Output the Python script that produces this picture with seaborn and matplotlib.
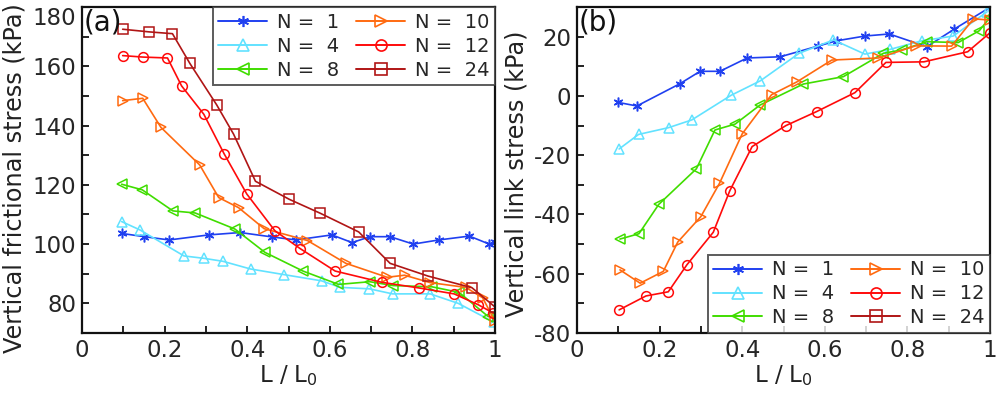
import matplotlib
matplotlib.use('Agg')
import matplotlib.pyplot as plt
from matplotlib.lines import Line2D
import seaborn as sns
import pandas as pd

# ---- panel (a): vertical frictional stress (kPa) ----
a_x_n1 = [0.096, 0.151, 0.211, 0.307, 0.383, 0.461, 0.518, 0.605, 0.654, 0.697, 0.746, 0.802, 0.864, 0.938, 0.986, 1.0]
a_y_n1 = [103.6, 102.5, 101.4, 103.1, 103.9, 102.4, 101.4, 103.1, 100.5, 102.5, 102.5, 100.0, 101.4, 102.7, 100.0, 100.6]
a_x_n4 = [0.096, 0.140, 0.247, 0.295, 0.341, 0.408, 0.489, 0.580, 0.625, 0.696, 0.752, 0.843, 0.911, 0.998]
a_y_n4 = [107.6, 104.8, 96.0, 95.2, 94.2, 91.6, 89.7, 87.6, 85.4, 84.9, 83.2, 83.2, 80.0, 73.6]
a_x_n8 = [0.096, 0.146, 0.220, 0.274, 0.370, 0.443, 0.535, 0.621, 0.697, 0.754, 0.847, 0.913, 0.984]
a_y_n8 = [120.2, 118.3, 111.2, 110.5, 105.1, 97.2, 90.9, 86.4, 87.3, 86.0, 85.6, 83.7, 75.5]
a_x_n10 = [0.0985, 0.147, 0.191, 0.285, 0.331, 0.379, 0.441, 0.546, 0.639, 0.739, 0.781, 0.843, 0.929, 0.970, 0.999]
a_y_n10 = [148.4, 149.2, 139.4, 126.7, 115.7, 112.3, 105.2, 101.2, 93.5, 88.8, 89.5, 87.0, 85.4, 81.9, 74.2]
a_x_n12 = [0.0985, 0.148, 0.207, 0.241, 0.295, 0.344, 0.399, 0.467, 0.528, 0.613, 0.726, 0.816, 0.901, 0.960, 0.996]
a_y_n12 = [163.6, 163.1, 162.8, 153.4, 143.8, 130.5, 116.9, 104.5, 98.5, 90.9, 87.1, 85.2, 83.2, 79.5, 76.7]
a_x_n24 = [0.0985, 0.163, 0.219, 0.261, 0.326, 0.367, 0.420, 0.502, 0.577, 0.670, 0.746, 0.838, 0.944, 0.999]
a_y_n24 = [172.5, 171.6, 171.0, 161.0, 147.0, 137.1, 121.2, 115.1, 110.4, 104.1, 93.5, 89.2, 85.3, 78.9]

# ---- panel (b): vertical link stress (kPa) ----
b_x_n1 = [0.100, 0.145, 0.249, 0.298, 0.346, 0.412, 0.492, 0.583, 0.629, 0.697, 0.756, 0.847, 0.913, 1.0]
b_y_n1 = [-2.2, -3.4, 4.1, 8.3, 8.3, 12.8, 13.2, 16.8, 18.6, 20.2, 20.9, 16.6, 22.5, 29.9]
b_x_n4 = [0.102, 0.149, 0.222, 0.278, 0.373, 0.444, 0.538, 0.621, 0.697, 0.758, 0.835, 0.911, 0.993]
b_y_n4 = [-17.9, -13.0, -10.7, -8.1, 0.2, 5.1, 14.4, 18.9, 14.1, 15.7, 18.6, 20.2, 28.4]
b_x_n8 = [0.104, 0.150, 0.198, 0.289, 0.334, 0.383, 0.443, 0.548, 0.645, 0.742, 0.786, 0.847, 0.923, 0.974, 1.0]
b_y_n8 = [-48.3, -46.5, -36.6, -24.6, -11.5, -9.5, -3.1, 4.0, 6.5, 14.4, 15.5, 18.3, 18.0, 22.0, 26.5]
b_x_n10 = [0.104, 0.153, 0.209, 0.244, 0.300, 0.345, 0.400, 0.471, 0.532, 0.617, 0.730, 0.820, 0.907, 0.960, 1.0]
b_y_n10 = [-58.7, -63.2, -59.2, -49.3, -40.7, -29.5, -12.8, 0.4, 4.7, 12.1, 12.8, 16.9, 16.8, 26.0, 25.6]
b_x_n12 = [0.102, 0.167, 0.221, 0.266, 0.330, 0.370, 0.424, 0.506, 0.580, 0.673, 0.748, 0.840, 0.946, 1.0]
b_y_n12 = [-72.2, -67.5, -66.1, -57.0, -46.0, -32.0, -17.1, -10.0, -5.3, 1.1, 11.3, 11.5, 14.9, 21.3]

labels = ['N =  1', 'N =  4', 'N =  8', 'N =  10', 'N =  12', 'N =  24']
colors = ['#2040f0', '#62e2ff', '#40dd00', '#ff6a10', '#ff0a0a', '#b01515']
markers = [(6, 2, 0), '^', '<', '>', 'o', 's']

series_a = [(a_x_n1, a_y_n1), (a_x_n4, a_y_n4), (a_x_n8, a_y_n8),
            (a_x_n10, a_y_n10), (a_x_n12, a_y_n12), (a_x_n24, a_y_n24)]
series_b = [(b_x_n1, b_y_n1), (b_x_n4, b_y_n4), (b_x_n8, b_y_n8),
            (b_x_n10, b_y_n10), (b_x_n12, b_y_n12)]

sns.set_theme(style='white')
plt.rcParams['font.family'] = ['DejaVu Sans']
plt.rcParams['axes.unicode_minus'] = False
plt.rcParams['mathtext.default'] = 'regular'

fig = plt.figure(figsize=(9.96, 3.99), dpi=100)
ax_a = fig.add_axes([82 / 996, 66 / 399, 413 / 996, 326 / 399])
ax_b = fig.add_axes([577 / 996, 66 / 399, 413 / 996, 326 / 399])


def draw(ax, series):
    for i, (xs, ys) in enumerate(series):
        df = pd.DataFrame({'x': xs, 'y': ys})
        sns.lineplot(data=df, x='x', y='y', ax=ax, sort=False, estimator=None,
                     color=colors[i], marker=markers[i], markersize=7,
                     markerfacecolor='none', markeredgecolor=colors[i],
                     markeredgewidth=1.1, linewidth=1.2)


def style(ax, ylim, yticks, ylabel, tag, label_pos):
    ax.set_xlim(0, 1)
    ax.set_ylim(*ylim)
    ax.set_xticks([0, 0.2, 0.4, 0.6, 0.8, 1])
    ax.set_xticklabels(['0', '0.2', '0.4', '0.6', '0.8', '1'])
    ax.set_xticks([0.1, 0.3, 0.5, 0.7, 0.9], minor=True)
    ax.set_yticks(yticks)
    ax.set_yticks([v + 10 for v in yticks[:-1]], minor=True)
    ax.tick_params(which='both', direction='in', bottom=True, left=True,
                   top=False, right=False, labelsize=16.5, pad=4, color='#222222')
    ax.tick_params(which='major', length=5, width=1.4)
    ax.tick_params(which='minor', length=5, width=1.4)
    for sp in ax.spines.values():
        sp.set_linewidth(1.6)
        sp.set_color('#111111')
    ax.set_xlabel('L / L$_0$', fontsize=16.5, labelpad=1, color='#222222')
    ax.set_ylabel(ylabel, fontsize=17.3, color='#222222')
    ax.yaxis.set_label_coords(*label_pos)
    ax.text(0.005, 0.995, tag, transform=ax.transAxes, ha='left', va='top',
            fontsize=20, color='#111111')
    handles = [Line2D([0], [0], color=colors[i], marker=markers[i], markersize=8,
                      markerfacecolor='none', markeredgecolor=colors[i],
                      markeredgewidth=1.2, linewidth=1.4) for i in range(6)]
    return handles


def add_legend(ax, h, loc):
    leg = ax.legend(h, labels, ncol=2, loc=loc, fontsize=14, frameon=True,
                    fancybox=False, edgecolor='#333333', borderaxespad=0,
                    handlelength=2.5, columnspacing=0.9, labelspacing=0.25,
                    handletextpad=0.5, borderpad=0.3)
    leg.get_frame().set_linewidth(1.4)


draw(ax_a, series_a)
h = style(ax_a, (70, 180), [80, 100, 120, 140, 160, 180],
          'Vertical frictional stress (kPa)', '(a)', (-0.135, 0.475))
add_legend(ax_a, h, 'upper right')
# keep the top tick label inside the figure, as in the original
fig.canvas.draw()
ax_a.get_yticklabels()[-1].set_va('top')

draw(ax_b, series_b)
h = style(ax_b, (-80, 30), [-80, -60, -40, -20, 0, 20],
          'Vertical link stress (kPa)', '(b)', (-0.118, 0.488))
add_legend(ax_b, h, 'lower right')

fig.savefig('out.png', dpi=100)
